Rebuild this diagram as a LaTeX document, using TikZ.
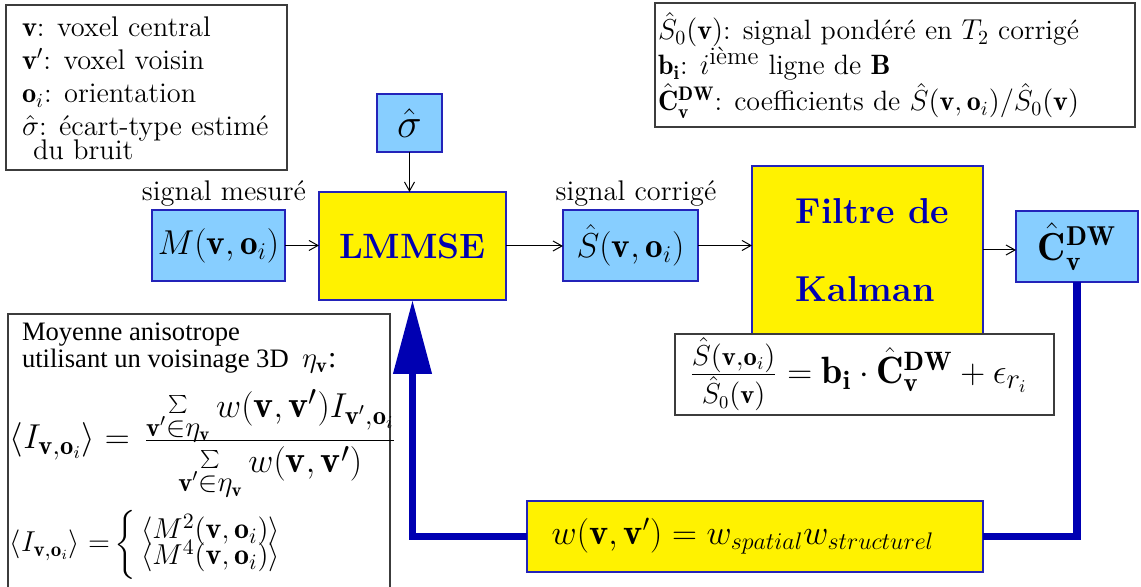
\documentclass[tikz,border=0pt]{standalone}
\usepackage{amsmath}
\usepackage{fontspec}
\newfontfamily\timesfont{Liberation Serif}
\usetikzlibrary{arrows.meta}

\definecolor{lightsky}{RGB}{135,206,255}
\definecolor{deepblue}{RGB}{0,0,178}
\definecolor{rimblue}{RGB}{35,35,185}
\definecolor{frameg}{RGB}{60,60,60}

% small summation sign with its range set below it (no effect on line spacing)
\newcommand{\smallsum}{\mathop{\smash{\raisebox{-2.25pt}{$\begin{array}{@{}c@{}}\scriptscriptstyle\sum\\[-9pt]
  \scriptstyle\mathbf v'\in\eta_{\mathbf v}\end{array}$}}}}

\begin{document}
\begin{tikzpicture}[x=0.5pt,y=-0.5pt,
  every node/.style={inner sep=0pt, outer sep=0pt},
  cyanbox/.style={draw=rimblue, line width=0.55pt, fill=lightsky,
    font=\fontsize{17.6}{21}\selectfont},
  yellowbox/.style={draw=rimblue, line width=0.55pt, fill=yellow,
    font=\fontsize{17.6}{21}\selectfont\bfseries, text=deepblue},
  outline/.style={draw=frameg, line width=0.55pt, fill=white},
  keytext/.style={anchor=base west, font=\fontsize{14.2}{17}\selectfont},
  flow/.style={line width=0.5pt, -{Straight Barb[length=4.5pt,width=5pt]}},
  feedback/.style={draw=deepblue, line width=3.75pt}]

\clip (0,0) rectangle (1141,587);

% --- legend, upper left
\node[outline, anchor=north west, minimum width=140.5pt, minimum height=82.5pt] (keyL) at (6,5) {};
\node[keytext] (kl1) at (22,37)  {$\mathbf{v}$: voxel central};
\node[keytext] (kl2) at (22,70)  {$\mathbf{v}'$: voxel voisin};
\node[keytext] (kl3) at (22,103) {$\mathbf{o}_i$: orientation};
\node[keytext] (kl4) at (22,136) {$\hat\sigma$: écart-type estimé};
\node[keytext] (kl5) at (33,160) {du bruit};

% --- legend, upper right
\node[outline, anchor=north west, minimum width=240pt, minimum height=62pt] (keyR) at (655,3) {};
\node[keytext, font=\fontsize{14}{17}\selectfont] (kr1) at (658,40)
  {$\hat S_0(\mathbf v)$: signal pondéré en $T_2$ corrigé};
\node[keytext, font=\fontsize{14}{17}\selectfont] (kr2) at (658,75)
  {$\mathbf{b_i}$: $i^{\text{\fontsize{12.5}{13}\selectfont ième}}$ ligne de $\mathbf B$};
\node[keytext, font=\fontsize{14}{17}\selectfont] (kr3) at (658,111)
  {$\hat{\mathbf C}_{\mathbf v}^{\mathbf{DW}}$: coefficients de $\hat S(\mathbf v,\mathbf o_i)/\hat S_0(\mathbf v)$};

% --- processing chain
\node[cyanbox, minimum width=32.5pt, minimum height=29pt, font=\fontsize{20}{24}\selectfont] (sig) at (409.5,123) {$\hat\sigma$};
\node[yellowbox, minimum width=93.5pt, minimum height=54pt] (lmmse) at (412.5,246) {LMMSE};
\node[cyanbox, minimum width=66.5pt, minimum height=35.5pt] (meas) at (218.5,245.5) {$M(\mathbf v,\mathbf o_i)$};
\node[cyanbox, minimum width=67.5pt, minimum height=35.5pt] (shat) at (630.5,245.5) {$\hat S(\mathbf v,\mathbf o_i)$};
\node[yellowbox, minimum width=115.5pt, minimum height=84pt, align=left,
      font=\fontsize{18}{21}\selectfont\bfseries] (kal) at (867.5,250)
  {\hspace*{5pt}Filtre de\\[18pt]\hspace*{5pt}Kalman};
\node[cyanbox, minimum width=61pt, minimum height=35.5pt, font=\fontsize{19.5}{23}\selectfont] (chat) at (1077,246.5)
  {$\hat{\mathbf C}_{\mathbf v}^{\mathbf{DW}}$};

\node[keytext, anchor=base] (lblM) at (224,201) {signal mesuré};
\node[keytext, anchor=base] (lblS) at (636,201) {signal corrigé};

% --- observation model
\node[outline, minimum width=189.5pt, minimum height=40.5pt, font=\fontsize{19}{23}\selectfont] (obs) at (864.5,374.5)
  {$\frac{\hat S(\mathbf v,\mathbf o_i)}{\hat S_0(\mathbf v)} = \mathbf{b_i}\cdot\hat{\mathbf C}_{\mathbf v}^{\mathbf{DW}}+\epsilon_{r_i}$\hspace*{6pt}};

% --- anisotropic averaging
\node[outline, anchor=north west, minimum width=191pt, minimum height=150pt] (avgbox) at (8,314) {};
\node[anchor=base west, font=\timesfont\fontsize{13.3}{14}\selectfont] (avg1) at (22,341) {Moyenne anisotrope};
\node[anchor=base west, font=\timesfont\fontsize{13.3}{14}\selectfont] (avg2) at (22,368)
  {utilisant un voisinage 3D~~{\fontsize{15}{16}\selectfont$\eta_{\mathbf v}$:}};
\node[anchor=base west, font=\fontsize{19}{22}\selectfont] (meanfrac) at (10,449)
  {$\displaystyle \langle I_{\mathbf v,\mathbf o_i}\rangle =$\hspace{7pt}{\fontsize{19}{23}\selectfont$\displaystyle
   \frac{\raisebox{4pt}{$\smallsum w(\mathbf v,\mathbf v')I_{\mathbf v',\mathbf o_i}$}}
        {\smallsum w(\mathbf v,\mathbf v')}$}};
\node[anchor=base west, font=\fontsize{15}{18}\selectfont] (meanpow) at (10,552)
  {$\langle I_{\mathbf v,\mathbf o_i}\rangle\;{=}\left\{\begin{array}{@{\,}l@{}}
     \langle M^2(\mathbf v,\mathbf o_i)\rangle\\[-5pt]
     \langle M^4(\mathbf v,\mathbf o_i)\rangle\end{array}\right.$};

% --- weights
\node[draw=rimblue, line width=0.55pt, fill=yellow, minimum width=228pt, minimum height=35.5pt,
      font=\fontsize{18.2}{21}\selectfont] (wbox) at (755,536.5)
  {$w(\mathbf v,\mathbf v') = w_{spatial}w_{structurel}$\hspace*{12pt}};

% --- connectors
\draw[flow] (meas.east) -- (meas.east -| lmmse.west);
\draw[flow] (lmmse.east) -- (lmmse.east -| shat.west);
\draw[flow] (shat.east) -- (shat.east -| kal.west);
\draw[flow] (kal.east) -- (kal.east -| chat.west);
\draw[flow] (sig.south) -- (sig.south |- lmmse.north);

\draw[feedback] (chat.south) |- (wbox.east);
\draw[feedback, -{Triangle[width=18.5pt,length=37pt]}] (wbox.west) -| (lmmse.south);
\end{tikzpicture}
\end{document}
